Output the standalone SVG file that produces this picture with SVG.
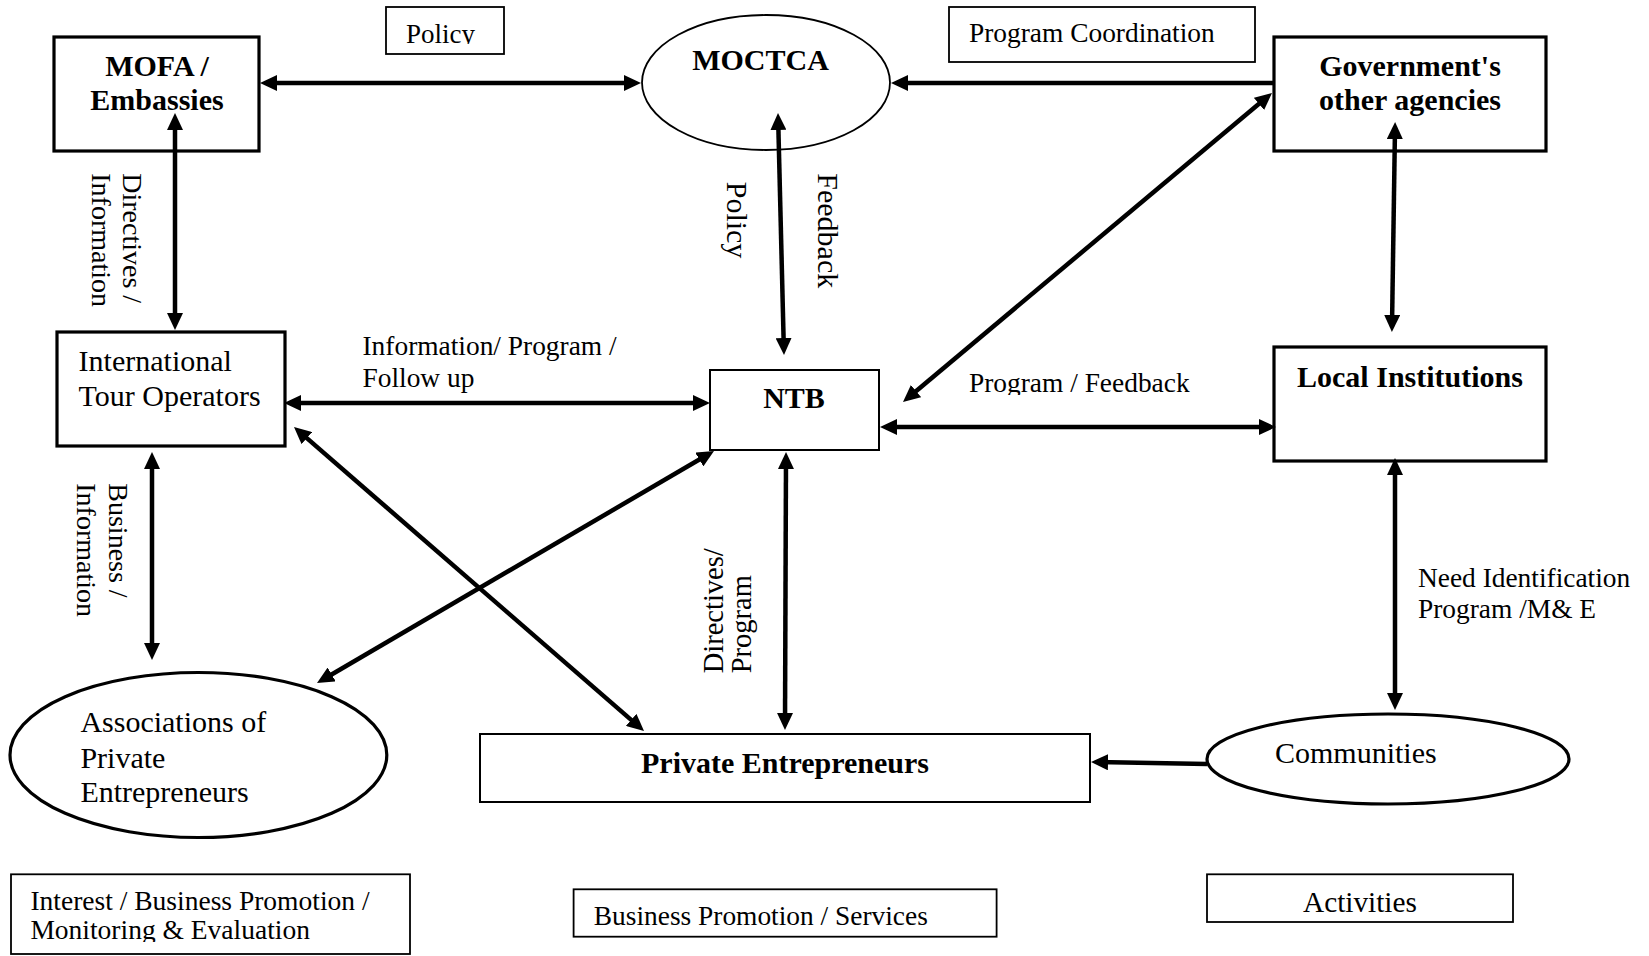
<svg xmlns="http://www.w3.org/2000/svg" width="1649" height="956" viewBox="0 0 1649 956">
<style>
.t{font-family:"Liberation Serif","Times New Roman",serif;fill:#000}
.b{font-weight:bold}
.thick{fill:#fff;stroke:#000;stroke-width:3.2}
.thin{fill:#fff;stroke:#000;stroke-width:2}
.lbl{fill:#fff;stroke:#000;stroke-width:1.8}
.conn{stroke:#000;stroke-width:4.5;fill:none}
</style>
<defs>
<marker id="ah" markerUnits="userSpaceOnUse" markerWidth="17" markerHeight="16" viewBox="0 0 17 16" refX="11" refY="8" orient="auto-start-reverse"><path d="M0,0 L17,8 L0,16 z" fill="#000"/></marker>
<clipPath id="cPol"><rect x="380" y="0" width="130" height="44"/></clipPath>
<clipPath id="cAct"><rect x="1200" y="870" width="320" height="43"/></clipPath>
<clipPath id="cMon"><rect x="0" y="870" width="420" height="72"/></clipPath>
<clipPath id="cPF"><rect x="950" y="350" width="260" height="45"/></clipPath>
</defs>
<rect width="1649" height="956" fill="#fff"/>

<g id="label-policy-top">
<rect class="lbl" x="386" y="7" width="118" height="47"/>
<text class="t" x="406" y="42.7" font-size="27" clip-path="url(#cPol)">Policy</text>
</g>
<g id="label-program-coordination">
<rect class="lbl" x="949" y="7" width="306" height="55"/>
<text class="t" x="969" y="42" font-size="27.4">Program Coordination</text>
</g>

<g id="node-mofa">
<rect class="thick" x="54" y="37" width="205" height="114"/>
<text class="t b" x="157" y="76" font-size="30" text-anchor="middle">MOFA /</text>
<text class="t b" x="157" y="110" font-size="30" text-anchor="middle">Embassies</text>
</g>
<g id="node-moctca">
<ellipse cx="766" cy="82.5" rx="124" ry="67.5" fill="#fff" stroke="#000" stroke-width="1.8"/>
<text class="t b" x="760.5" y="70" font-size="30" text-anchor="middle">MOCTCA</text>
</g>
<g id="node-gov">
<rect class="thick" x="1274" y="37" width="272" height="114"/>
<text class="t b" x="1410" y="76" font-size="30" text-anchor="middle">Government's</text>
<text class="t b" x="1410" y="110" font-size="30" text-anchor="middle">other agencies</text>
</g>
<g id="node-ito">
<rect class="thick" x="57" y="332" width="228" height="114"/>
<text class="t" x="78.6" y="370.7" font-size="30">International</text>
<text class="t" x="78.6" y="406" font-size="30">Tour Operators</text>
</g>
<g id="node-ntb">
<rect class="thin" x="710" y="370" width="169" height="80"/>
<text class="t b" x="794" y="408.3" font-size="30" text-anchor="middle">NTB</text>
</g>
<g id="node-local">
<rect class="thick" x="1274" y="347" width="272" height="114"/>
<text class="t b" x="1410" y="387.3" font-size="30" text-anchor="middle">Local Institutions</text>
</g>
<g id="node-assoc">
<ellipse cx="198.4" cy="755" rx="188.4" ry="82.5" fill="#fff" stroke="#000" stroke-width="3.2"/>
<text class="t" x="80.4" y="732.3" font-size="30">Associations of</text>
<text class="t" x="80.4" y="767.7" font-size="30">Private</text>
<text class="t" x="80.4" y="802.3" font-size="30">Entrepreneurs</text>
</g>
<g id="node-pe">
<rect class="thin" x="480" y="734" width="610" height="68"/>
<text class="t b" x="785" y="772.7" font-size="30" text-anchor="middle">Private Entrepreneurs</text>
</g>
<g id="node-communities">
<ellipse cx="1388" cy="759" rx="181" ry="45" fill="#fff" stroke="#000" stroke-width="3.2"/>
<text class="t" x="1275" y="762.7" font-size="30">Communities</text>
</g>

<g id="label-interest">
<rect class="lbl" x="11" y="874.3" width="399" height="79.7"/>
<text class="t" font-size="27.5" clip-path="url(#cMon)"><tspan x="30.4" y="910">Interest / Business Promotion /</tspan><tspan x="30.4" y="939.3">Monitoring &amp; Evaluation</tspan></text>
</g>
<g id="label-business-services">
<rect class="lbl" x="573.6" y="889.3" width="423" height="47.4"/>
<text class="t" x="593.8" y="925" font-size="27.4">Business Promotion / Services</text>
</g>
<g id="label-activities">
<rect class="lbl" x="1207" y="874.3" width="306" height="47.7"/>
<text class="t" x="1303" y="911.7" font-size="29.3" clip-path="url(#cAct)">Activities</text>
</g>

<g id="connectors">
<path class="conn" d="M266,83 L635,83" marker-start="url(#ah)" marker-end="url(#ah)"/>
<path class="conn" d="M1274,83 L897,83" marker-end="url(#ah)"/>
<path class="conn" d="M778.15,119 L783.85,349" marker-start="url(#ah)" marker-end="url(#ah)"/>
<path class="conn" d="M1267.4,96.85 L907.6,398.15" marker-start="url(#ah)" marker-end="url(#ah)"/>
<path class="conn" d="M886,427 L1270,427" marker-start="url(#ah)" marker-end="url(#ah)"/>
<path class="conn" d="M1395,128 L1392,326" marker-start="url(#ah)" marker-end="url(#ah)"/>
<path class="conn" d="M1395,464 L1395,704" marker-start="url(#ah)" marker-end="url(#ah)"/>
<path class="conn" d="M1207,764 L1097,762.1" marker-end="url(#ah)"/>
<path class="conn" d="M175,119 L175,324" marker-start="url(#ah)" marker-end="url(#ah)"/>
<path class="conn" d="M290,403 L704,403" marker-start="url(#ah)" marker-end="url(#ah)"/>
<path class="conn" d="M152,458 L152,654" marker-start="url(#ah)" marker-end="url(#ah)"/>
<path class="conn" d="M298.5,430.9 L639.5,727.1" marker-start="url(#ah)" marker-end="url(#ah)"/>
<path class="conn" d="M708.8,454 L322.2,680" marker-start="url(#ah)" marker-end="url(#ah)"/>
<path class="conn" d="M786,458 L785,724" marker-start="url(#ah)" marker-end="url(#ah)"/>
</g>

<g id="edge-labels">
<text class="t" transform="translate(727,181.7) rotate(90)" font-size="30">Policy</text>
<text class="t" transform="translate(818,173.3) rotate(90)" font-size="30">Feedback</text>
<text class="t" transform="translate(123.3,173.3) rotate(90)" font-size="28"><tspan x="0" y="0">Directives /</tspan><tspan x="0" y="31.8">Information</tspan></text>
<text class="t" transform="translate(109,483.3) rotate(90)" font-size="28"><tspan x="0" y="0">Business /</tspan><tspan x="0" y="32">Information</tspan></text>
<text class="t" transform="translate(723,673.3) rotate(-90)" font-size="28.5"><tspan x="0" y="0">Directives/</tspan><tspan x="0" y="28.3">Program</tspan></text>
<text class="t" font-size="27.4"><tspan x="362.5" y="355">Information/ Program /</tspan><tspan x="362.5" y="387.3">Follow up</tspan></text>
<text class="t" x="969" y="391.7" font-size="27.4" clip-path="url(#cPF)">Program / Feedback</text>
<text class="t" font-size="27.4"><tspan x="1418" y="586.7">Need Identification</tspan><tspan x="1418" y="618.3">Program /M&amp; E</tspan></text>
</g>
</svg>
